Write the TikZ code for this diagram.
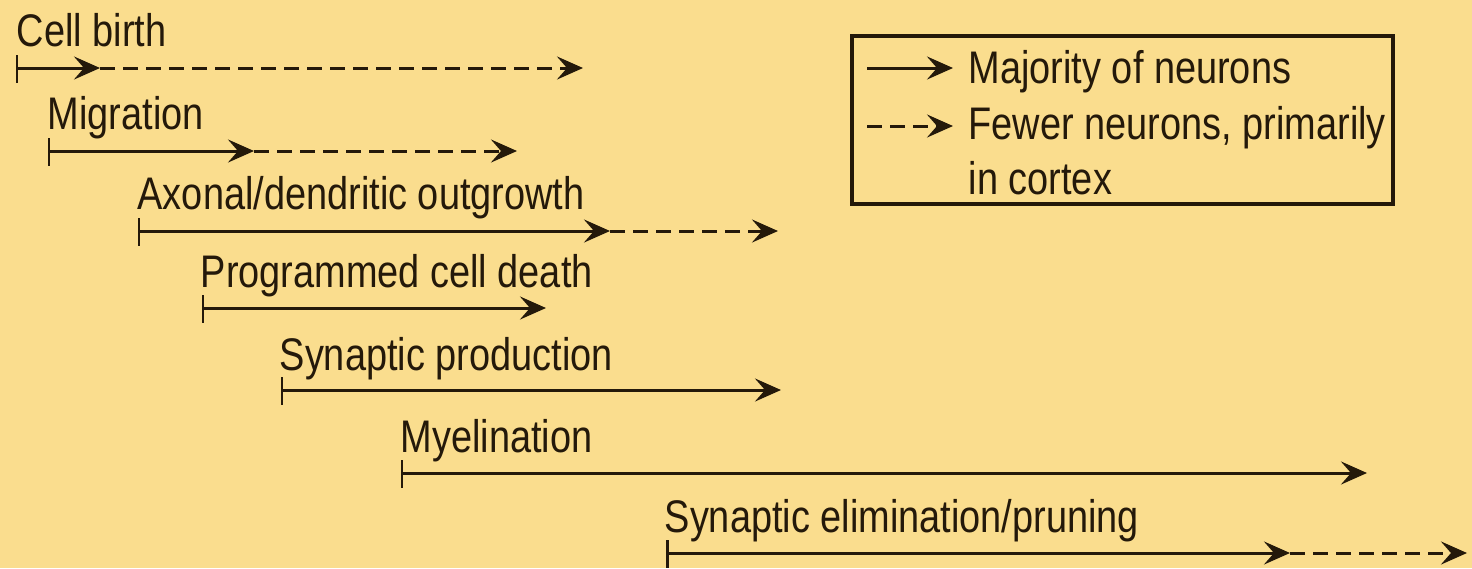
\documentclass[tikz,border=0pt]{standalone}
\usepackage{fontspec}
\setmainfont{Liberation Sans}[FakeStretch=0.83]
\usetikzlibrary{arrows.meta}
\definecolor{paper}{RGB}{250,221,142}
\definecolor{ink}{RGB}{36,25,10}

\begin{document}
\begin{tikzpicture}[
  lab/.style={anchor=base west,inner sep=0pt,text=ink,font=\fontsize{13pt}{15pt}\selectfont},
  most/.style={draw=ink,line width=0.85pt,-{Stealth[length=2.6mm,width=2.3mm,inset=1mm]}},
  few/.style={most,dash pattern=on 1.5mm off 0.8mm},
  begintick/.style={draw=ink,line width=0.85pt}
]
  \fill[paper] (0,0) rectangle (14.72,-5.68);
  \useasboundingbox (0,0) rectangle (14.72,-5.68);

  % labels
  \node[lab] (birth)   at (0.16,-0.46) {Cell birth};
  \node[lab] (migr)    at (0.47,-1.29) {Migration};
  \node[lab] (axon)    at (1.37,-2.09) {Axonal/dendritic outgrowth};
  \node[lab] (death)   at (2.00,-2.87) {Programmed cell death};
  \node[lab] (synprod) at (2.79,-3.70) {Synaptic production};
  \node[lab] (myel)    at (4.00,-4.52) {Myelination};
  \node[lab] (prune)   at (6.64,-5.32) {Synaptic elimination/pruning};

  % start, change and end of each period
  \coordinate (birth-s) at (0.17,-0.68);
  \coordinate (birth-m) at (1.00,-0.68);
  \coordinate (birth-e) at (5.83,-0.68);
  \coordinate (migr-s) at (0.49,-1.51);
  \coordinate (migr-m) at (2.54,-1.51);
  \coordinate (migr-e) at (5.17,-1.51);
  \coordinate (axon-s) at (1.39,-2.31);
  \coordinate (axon-m) at (6.10,-2.31);
  \coordinate (axon-e) at (7.78,-2.31);
  \coordinate (death-s) at (2.03,-3.08);
  \coordinate (death-e) at (5.46,-3.08);
  \coordinate (synprod-s) at (2.82,-3.90);
  \coordinate (synprod-e) at (7.81,-3.90);
  \coordinate (myel-s) at (4.02,-4.73);
  \coordinate (myel-e) at (13.67,-4.73);
  \coordinate (prune-s) at (6.67,-5.53);
  \coordinate (prune-m) at (12.90,-5.53);
  \coordinate (prune-e) at (14.67,-5.53);

  \draw[most] (birth-s) -- (birth-m);
  \draw[few] (birth-m) -- (birth-e);
  \draw[most] (migr-s) -- (migr-m);
  \draw[few] (migr-m) -- (migr-e);
  \draw[most] (axon-s) -- (axon-m);
  \draw[few] (axon-m) -- (axon-e);
  \draw[most] (death-s) -- (death-e);
  \draw[most] (synprod-s) -- (synprod-e);
  \draw[most] (myel-s) -- (myel-e);
  \draw[most] (prune-s) -- (prune-m);
  \draw[few] (prune-m) -- (prune-e);

  \draw[begintick] (birth-s) ++(0,0.13) -- ++(0,-0.28);
  \draw[begintick] (migr-s) ++(0,0.13) -- ++(0,-0.28);
  \draw[begintick] (axon-s) ++(0,0.13) -- ++(0,-0.28);
  \draw[begintick] (death-s) ++(0,0.13) -- ++(0,-0.28);
  \draw[begintick] (synprod-s) ++(0,0.13) -- ++(0,-0.28);
  \draw[begintick] (myel-s) ++(0,0.13) -- ++(0,-0.28);
  \draw[begintick] (prune-s) ++(0,0.13) -- ++(0,-0.28);

  % legend
  \draw[ink,line width=1.1pt] (8.52,-0.36) rectangle (13.93,-2.04);
  \node[lab] (legmaj)    at (9.68,-0.83) {Majority of neurons};
  \node[lab] (legfew)    at (9.68,-1.39) {Fewer neurons, primarily};
  \node[lab] (legcortex) at (9.68,-1.94) {in cortex};
  \coordinate (legmaj-s) at (8.67,-0.68);
  \coordinate (legmaj-e) at (9.53,-0.68);
  \coordinate (legfew-s) at (8.67,-1.26);
  \coordinate (legfew-e) at (9.53,-1.26);
  \draw[most] (legmaj-s) -- (legmaj-e);
  \draw[few] (legfew-s) -- (legfew-e);
\end{tikzpicture}
\end{document}
